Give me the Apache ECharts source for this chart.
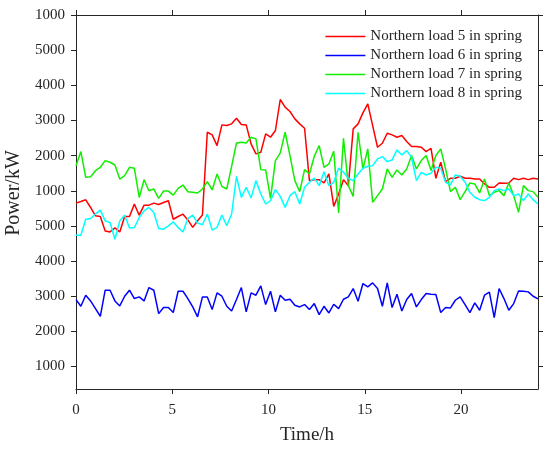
<!DOCTYPE html>
<html>
<head>
<meta charset="utf-8">
<script src="https://cdn.jsdelivr.net/npm/echarts@6/dist/echarts.min.js"></script>
<style>
  html, body { margin: 0; padding: 0; background: #fff; }
  #chart { width: 550px; height: 449px; }
</style>
</head>
<body>
<div id="chart"></div>
<script>
// values, 96 points over 0..24 h
const load5 = [5648, 5695, 5743, 5524, 5286, 5267, 4857, 4829, 4943, 4829, 5267, 5267, 5619, 5305, 5590, 5590,
  5648, 5610, 5667, 5714, 5190, 5267, 5333, 5171, 4958, 5148, 5309, 7665, 7589, 7285, 7874, 7855,
  7903, 8064, 7884, 7874, 7333, 7048, 7095, 7618, 7523, 7713, 8596, 8378, 8254, 8045, 7903, 7779,
  6288, 6316, 6316, 6221, 6478, 5556, 5908, 6316, 6145, 7760, 7903, 8216, 8473, 7855, 7238, 7352,
  7637, 7589, 7523, 7570, 7399, 7257, 7257, 7238, 7114, 7209, 6355, 6811, 6260, 6355, 6355, 6412,
  6355, 6355, 6336, 6336, 6194, 6099, 6099, 6222, 6212, 6222, 6355, 6317, 6355, 6317, 6355, 6336];

const load6 = [2904, 2714, 3028, 2866, 2648, 2429, 3170, 3170, 2866, 2724, 2999, 3170, 2933, 2980, 2866, 3246,
  3170, 2505, 2676, 2676, 2534, 3142, 3142, 2933, 2695, 2410, 2980, 2980, 2619, 3094, 2999, 2714,
  2581, 2904, 3246, 2553, 3094, 3028, 3294, 2762, 3142, 2553, 3028, 2885, 2914, 2743, 2695, 2762,
  2619, 2790, 2477, 2714, 2524, 2771, 2648, 2914, 2980, 3218, 2857, 3360, 3265, 3379, 3218, 2714,
  3379, 2676, 3056, 2581, 2904, 3075, 2695, 2904, 3075, 3056, 3047, 2534, 2676, 2667, 2885, 2980,
  2762, 2534, 2809, 2600, 3028, 3113, 2391, 3218, 2933, 2600, 2790, 3151, 3142, 3123, 2999, 2923];

const load7 = [6714, 7114, 6381, 6400, 6571, 6667, 6857, 6810, 6733, 6333, 6429, 6667, 6638, 5810, 6314, 6000,
  6048, 5781, 5990, 5990, 5876, 6067, 6162, 5971, 5955, 5936, 6050, 6259, 6022, 6478, 6126, 6050,
  6696, 7361, 7380, 7361, 7523, 7475, 6601, 6592, 5784, 6858, 7076, 7665, 7000, 6288, 5974, 6601,
  6478, 6981, 7285, 6668, 6763, 7124, 5366, 7494, 6145, 5841, 7665, 6620, 7190, 5670, 5860, 6050,
  6620, 6383, 6592, 6449, 6620, 7000, 6620, 6858, 7001, 6574, 7001, 7191, 6621, 5975, 6099, 5747,
  5975, 6222, 6194, 5937, 6336, 5861, 5956, 6004, 5861, 6222, 5861, 5386, 6146, 6004, 5975, 5813];

const load8 = [4733, 4733, 5190, 5210, 5333, 5448, 5143, 5095, 4619, 5143, 5305, 4943, 4952, 5238, 5429, 5524,
  5381, 4924, 4905, 5000, 5114, 4952, 4829, 5210, 5309, 5081, 5034, 5338, 4882, 4958, 5309, 5005,
  5338, 6411, 5813, 6098, 5794, 6288, 5908, 5623, 5718, 6031, 5841, 5528, 5860, 5974, 5623, 6098,
  6240, 6364, 6145, 6544, 6145, 6240, 6649, 6525, 6354, 6288, 6478, 6639, 6696, 6715, 6905, 6972,
  6829, 6877, 7162, 7019, 7143, 6953, 6288, 6525, 6449, 6497, 6668, 6640, 6241, 6165, 6450, 6412,
  6241, 5956, 5814, 5747, 5719, 5814, 6004, 6051, 6004, 6051, 5861, 5909, 5719, 5909, 5747, 5624];

const seriesNames = ['Northern load 5 in spring', 'Northern load 6 in spring',
  'Northern load 7 in spring', 'Northern load 8 in spring'];
const seriesColors = ['#ff0000', '#0000ff', '#11ee00', '#00ffff'];

const xTicks = [0, 5, 10, 15, 20];
const yTicks = [1000, 2000, 3000, 4000, 5000, 6000, 7000, 8000, 9000, 10000, 11000];
const yTickLabels = ['1000', '2000', '3000', '4000', '5000', '1000', '2000', '3000', '4000', '5000', '1000'];

const time = load5.map((_, i) => i * 24 / (load5.length - 1));

const font = 'Liberation Serif';
const ink = '#262626';
const axisLine = { show: true, onZero: false, lineStyle: { color: ink, width: 1 } };

function pairs(vals) {
  return vals.map((v, i) => [time[i], v]);
}

const chart = echarts.init(document.getElementById('chart'));
chart.setOption({
  animation: false,
  backgroundColor: '#fff',
  grid: { left: 76, right: 12, top: 15, bottom: 60, containLabel: false, outerBoundsMode: 'none' },
  legend: {
    data: seriesNames,
    orient: 'vertical',
    right: 28,
    top: 29,
    padding: 0,
    icon: 'rect',
    itemWidth: 40,
    itemHeight: 1.6,
    itemGap: 4,
    textStyle: { fontFamily: font, fontSize: 15, color: ink, lineHeight: 15 }
  },
  xAxis: [{
    type: 'value', min: 0, max: 24, position: 'bottom',
    axisLine: axisLine,
    axisTick: { show: true, inside: false, length: 5, customValues: xTicks, lineStyle: { color: ink } },
    axisLabel: { customValues: xTicks, margin: 14, fontFamily: font, fontSize: 15, color: ink },
    splitLine: { show: false },
    name: 'Time/h', nameLocation: 'middle', nameGap: 37,
    nameTextStyle: { fontFamily: font, fontSize: 19, color: ink }
  }, {
    type: 'value', min: 0, max: 24, position: 'top',
    axisLine: axisLine,
    axisTick: { show: true, inside: false, length: 5, customValues: xTicks, lineStyle: { color: ink } },
    axisLabel: { show: false },
    splitLine: { show: false }
  }],
  yAxis: [{
    type: 'value', min: 360, max: 11000, position: 'left',
    axisLine: axisLine,
    axisTick: { show: true, inside: false, length: 5, customValues: yTicks, lineStyle: { color: ink } },
    axisLabel: {
      customValues: yTicks, margin: 11, fontFamily: font, fontSize: 15, color: ink,
      formatter: v => yTickLabels[yTicks.indexOf(v)]
    },
    splitLine: { show: false },
    name: 'Power/kW', nameLocation: 'middle', nameGap: 47, nameRotate: 90,
    nameTextStyle: { fontFamily: font, fontSize: 20, color: ink, padding: [0, 0, 0, 18] }
  }, {
    type: 'value', min: 360, max: 11000, position: 'right',
    axisLine: axisLine,
    axisTick: { show: true, inside: false, length: 5, customValues: yTicks, lineStyle: { color: ink } },
    axisLabel: { show: false },
    splitLine: { show: false }
  }],
  series: [load5, load6, load7, load8].map((vals, k) => ({
    name: seriesNames[k],
    type: 'line',
    xAxisIndex: 0,
    yAxisIndex: 0,
    data: pairs(vals),
    symbol: 'none',
    showSymbol: false,
    color: seriesColors[k],
    lineStyle: { color: seriesColors[k], width: 1.5 }
  }))
});
</script>
</body>
</html>
